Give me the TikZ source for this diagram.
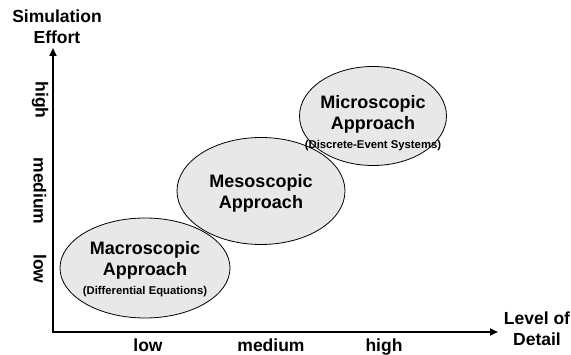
\documentclass[tikz,border=0pt]{standalone}
\usepackage{fontspec}
\setmainfont{Liberation Sans}
\usetikzlibrary{arrows.meta,shapes.geometric}
\tikzset{
  axis/.style={line width=2pt,{Triangle[length=8pt,width=7pt]}-{Triangle[length=8pt,width=7pt]}},
  approach/.style={ellipse,draw,line width=0.8pt,fill=gray!18,inner sep=0pt},
  apptext/.style={align=center,inner sep=0pt,font=\bfseries\fontsize{18}{21}\selectfont},
  axislabel/.style={align=center,font=\bfseries\fontsize{17.5}{21}\selectfont},
  level/.style={font=\bfseries\fontsize{17.5}{21}\selectfont}
}
\newcommand{\smalltext}[1]{{\fontsize{11.3}{15}\selectfont #1}}

\begin{document}
\begin{tikzpicture}[x=1pt,y=-1pt]
  \useasboundingbox (0,0) rectangle (571,355);

  \coordinate (O) at (53,332);
  \coordinate (ytip) at (53,48);
  \coordinate (xtip) at (498,332);
  \draw[axis] (ytip) -- (O) -- (xtip);

  \node[axislabel] (effort) at (57,27) {Simulation\\Effort};
  \node[axislabel] (detail) at (537,329) {Level of\\Detail};

  % levels on the axes
  \node[level,anchor=base] (xlow) at (148,352) {low};
  \node[level,anchor=base] (xmed) at (271,352) {medium};
  \node[level,anchor=base] (xhigh) at (384,352) {high};
  \node[level,rotate=-90] (yhigh) at (40,100) {high};
  \node[level,rotate=-90] (ymed) at (40,191) {medium};
  \node[level,rotate=-90] (ylow) at (40,269) {low};

  \node[approach,minimum width=170pt,minimum height=100pt] (macro) at (145,268) {};
  \node[approach,minimum width=168pt,minimum height=107pt] (meso) at (261,191) {};
  \node[approach,minimum width=147pt,minimum height=99pt] (micro) at (373,116) {};

  \node[apptext] (macrotext) at (145,269) {Macroscopic\\Approach\\[-2pt]\smalltext{(Differential Equations)}};
  \node[apptext] (mesotext) at (261,193) {Mesoscopic\\Approach};
  \node[apptext] (microtext) at (373,123) {Microscopic\\Approach\\[-2pt]\smalltext{(Discrete-Event Systems)}};
\end{tikzpicture}
\end{document}
